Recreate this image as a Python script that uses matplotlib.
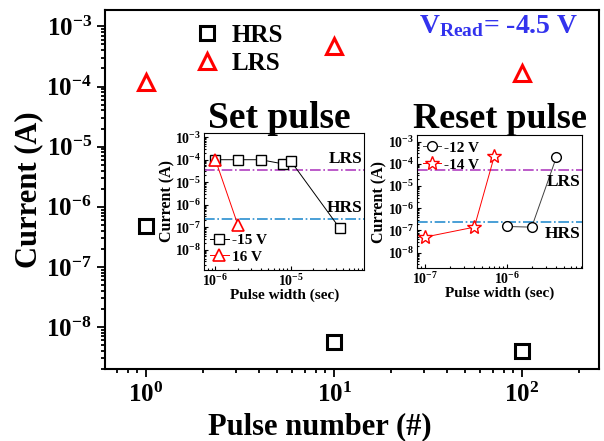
import numpy as np
import matplotlib
matplotlib.use('Agg')
import matplotlib.pyplot as plt

plt.rcParams['font.family'] = 'Liberation Serif'
plt.rcParams['font.weight'] = 'bold'
plt.rcParams['mathtext.fontset'] = 'custom'
plt.rcParams['mathtext.rm'] = 'Liberation Serif:bold'
plt.rcParams['mathtext.it'] = 'Liberation Serif:bold:italic'
plt.rcParams['mathtext.bf'] = 'Liberation Serif:bold'

# main data
pulse_num = [1, 10, 100]
hrs_cur = [4.8e-7, 5.6e-9, 4.0e-9]
lrs_cur = [1.2e-4, 4.8e-4, 1.7e-4]

# set pulse inset
set_w15 = [1e-6, 2e-6, 4e-6, 8e-6, 1e-5, 4.5e-5]
set_i15 = [1.0e-4, 1.0e-4, 1.0e-4, 6.5e-5, 9e-5, 9e-8]
set_w16 = [1e-6, 2e-6]
set_i16 = [1.0e-4, 1.2e-7]
set_lrs, set_hrs = 3.4e-5, 2.2e-7

# reset pulse inset
rst_w12 = [1e-6, 2e-6, 4e-6]
rst_i12 = [1.5e-7, 1.4e-7, 2.0e-4]
rst_w14 = [1e-7, 4e-7, 7e-7]
rst_i14 = [5e-8, 1.4e-7, 2.2e-4]
rst_lrs, rst_hrs = 5.5e-5, 2.4e-7

fig = plt.figure(figsize=(6.04, 4.41), dpi=100)
ax = fig.add_axes([0.174, 0.163, 0.818, 0.814])
ax.set_xscale('log')
ax.set_yscale('log')
ax.plot(pulse_num, hrs_cur, 's', ms=10, mfc='none', mec='black', mew=2.2, label='HRS', ls='none')
ax.plot(pulse_num, lrs_cur, '^', ms=12, mfc='none', mec='red', mew=2.2, label='LRS', ls='none')
ax.set_xlim(10**-0.218, 10**2.41)
ax.set_ylim(10**-8.7, 10**-2.73)
ax.set_xlabel('Pulse number (#)', fontsize=22, fontweight='bold')
ax.set_ylabel('Current (A)', fontsize=22, fontweight='bold', labelpad=2)
ax.xaxis.set_label_coords(0.435, -0.12)
ax.tick_params(which='both', direction='out', labelsize=18, width=1.3)
ax.tick_params(which='major', length=6)
ax.tick_params(which='minor', length=3)
ax.yaxis.set_minor_locator(matplotlib.ticker.LogLocator(subs=np.arange(2, 10), numticks=20))
ax.yaxis.set_minor_formatter(matplotlib.ticker.NullFormatter())
ax.xaxis.set_minor_formatter(matplotlib.ticker.NullFormatter())
for s in ax.spines.values():
    s.set_linewidth(1.5)
ax.legend(loc='upper left', bbox_to_anchor=(0.13, 1.025), frameon=False, fontsize=18,
          handletextpad=0.4, labelspacing=0.2, numpoints=1, handlelength=1.2)

fig.text(0.957, 0.925, r'$\mathbf{V_{Read}}$= -4.5 V', color='#3333ee', fontsize=20,
         fontweight='bold', ha='right', va='baseline')
fig.text(0.463, 0.71, 'Set pulse', fontsize=27, fontweight='bold', ha='center', va='baseline')
fig.text(0.828, 0.71, 'Reset pulse', fontsize=26, fontweight='bold', ha='center', va='baseline')


def style_inset(a):
    a.set_xscale('log')
    a.set_yscale('log')
    a.tick_params(which='both', direction='in', labelsize=10, width=0.8, pad=2)
    a.tick_params(which='major', length=3)
    a.tick_params(which='minor', length=1.5)
    a.yaxis.set_major_locator(matplotlib.ticker.LogLocator(numticks=20))
    a.yaxis.set_minor_locator(matplotlib.ticker.LogLocator(subs=np.arange(2, 10), numticks=20))
    a.yaxis.set_minor_formatter(matplotlib.ticker.NullFormatter())
    a.xaxis.set_minor_formatter(matplotlib.ticker.NullFormatter())
    a.set_xlabel('Pulse width (sec)', fontsize=11, fontweight='bold', labelpad=0)
    a.set_ylabel('Current (A)', fontsize=11.5, fontweight='bold', labelpad=0)
    for s in a.spines.values():
        s.set_linewidth(0.8)


# set inset
a1 = fig.add_axes([0.338, 0.388, 0.265, 0.311])
style_inset(a1)
a1.axhline(set_lrs, color='#b040c0', ls='-.', lw=1.2)
a1.axhline(set_hrs, color='#2a8fcf', ls='-.', lw=1.2)
a1.plot(set_w15, set_i15, 's-', color='black', lw=0.7, ms=7, mfc='white', mec='black', mew=1, label='-15 V')
a1.plot(set_w16, set_i16, '^-', color='red', lw=0.7, ms=9, mfc='white', mec='red', mew=1.2, label='16 V')
a1.set_xlim(10**-6.15, 10**-4.02)
a1.set_ylim(10**-8.9, 10**-2.8)
a1.text(0.99, set_lrs * 1.4, 'LRS', transform=a1.get_yaxis_transform(), ha='right', va='bottom', fontsize=12.5)
a1.text(0.99, set_hrs * 1.4, 'HRS', transform=a1.get_yaxis_transform(), ha='right', va='bottom', fontsize=12.5)
a1.legend(loc='lower left', frameon=False, fontsize=11, handlelength=1.2, handletextpad=0.2,
          labelspacing=0.2, borderaxespad=0.2, borderpad=0.2)

# reset inset
a2 = fig.add_axes([0.690, 0.392, 0.273, 0.302])
style_inset(a2)
a2.axhline(rst_lrs, color='#b040c0', ls='-.', lw=1.2)
a2.axhline(rst_hrs, color='#2a8fcf', ls='-.', lw=1.2)
a2.plot(rst_w12, rst_i12, 'o-', color='#404040', lw=0.7, ms=7, mfc='white', mec='black', mew=1, label='-12 V')
a2.plot(rst_w14, rst_i14, '*-', color='red', lw=0.7, ms=10, mfc='white', mec='red', mew=1, label='-14 V')
a2.set_xlim(10**-7.1, 10**-5.09)
a2.set_ylim(10**-8.7, 10**-2.7)
a2.text(0.99, rst_lrs / 1.6, 'LRS', transform=a2.get_yaxis_transform(), ha='right', va='top', fontsize=12.5)
a2.text(0.99, rst_hrs / 1.6, 'HRS', transform=a2.get_yaxis_transform(), ha='right', va='top', fontsize=12.5)
a2.legend(loc='upper left', frameon=False, fontsize=11, handlelength=1.2, handletextpad=0.2,
          labelspacing=0.2, borderaxespad=0.2, borderpad=0.2)

fig.savefig('out.png', dpi=100)
